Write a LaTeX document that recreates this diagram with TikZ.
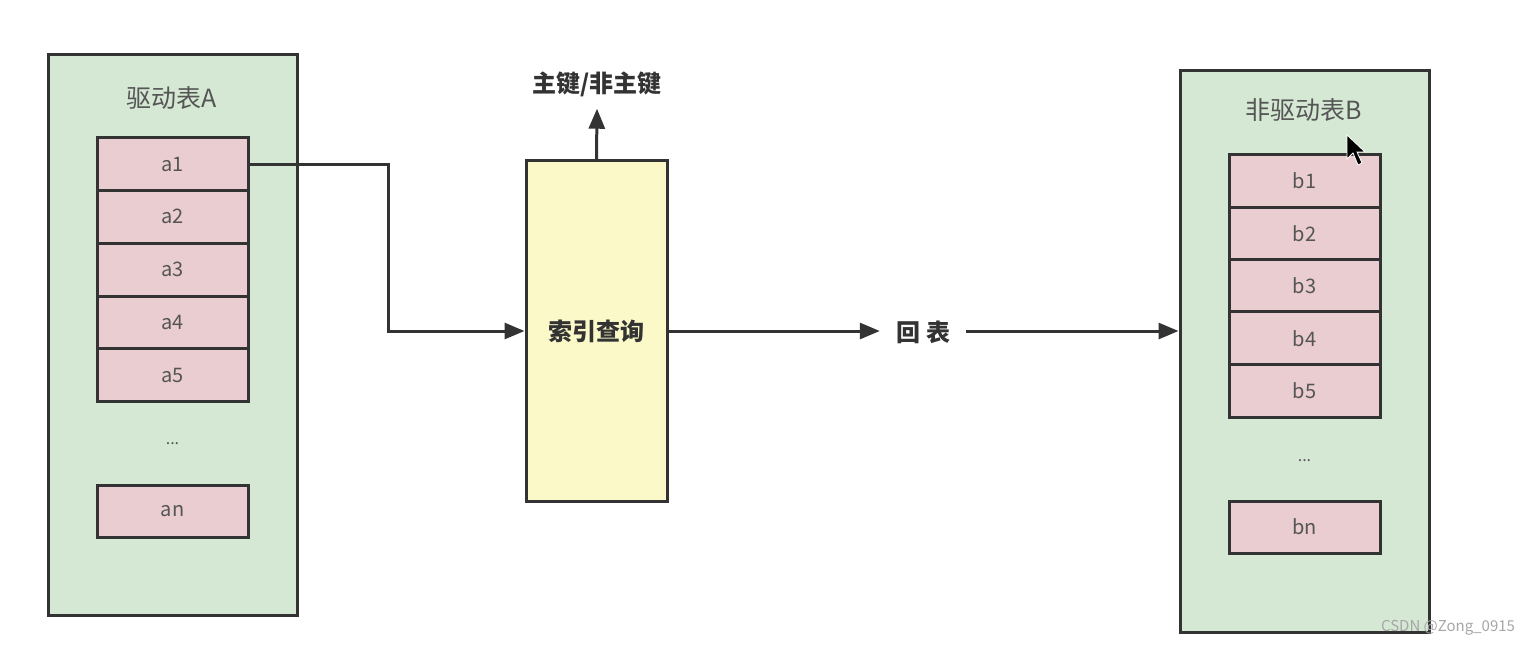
\documentclass[tikz,border=0pt]{standalone}
\usepackage{fontspec}
\setmainfont{Noto Sans CJK SC}
\usetikzlibrary{arrows.meta}

\definecolor{tablegreen}{HTML}{D5E8D4}
\definecolor{rowpink}{HTML}{EACDD0}
\definecolor{indexyellow}{HTML}{FBF9C8}
\definecolor{edgegray}{HTML}{333333}
\definecolor{textgray}{HTML}{555555}

\tikzset{
    table/.style={draw=edgegray, line width=3pt, fill=tablegreen, inner sep=0pt, minimum width=249pt, minimum height=561pt},
    row/.style={draw=edgegray, line width=3pt, fill=rowpink, inner sep=0pt, minimum width=151pt, minimum height=52.8pt, text=textgray, font=\fontsize{20}{20}\selectfont},
    title/.style={text=textgray, font=\fontsize{25}{25}\selectfont},
    dots/.style={text=textgray, font=\fontsize{16}{16}\selectfont},
    bold label/.style={text=edgegray, font=\fontsize{24}{24}\selectfont\bfseries},
    flow/.style={draw=edgegray, line width=3pt, -{Triangle[length=20pt, width=16pt]}}
}

\begin{document}
\begin{tikzpicture}[x=1pt, y=-1pt]

    \useasboundingbox (0,0) rectangle (1528,646);

    % driving table A
    \node[table] (tableA) at (173,334.5) {};
    \node[title] (titleA) at (172,98) {驱动表A};
    \foreach \i in {1,...,5} {
        \node[row] (a\i) at (172.5,{164+(\i-1)*52.8}) {a\i};
    }
    \node[dots] (dotsA) at (172.5,444) {...};
    \node[row, minimum height=52pt] (an) at (172.5,511) {an};

    % index lookup
    \node[draw=edgegray, line width=3pt, fill=indexyellow, minimum width=141pt, minimum height=341pt, inner sep=0pt, bold label] (index) at (596.5,331) {索引查询};
    \node[bold label, inner ysep=12pt] (key) at (597,84) {主键/非主键};
    \node[bold label, inner xsep=16pt] (back) at (923,332) {回\hspace{6pt}表};

    % non-driving table B
    \node[table, minimum height=562pt] (tableB) at (1304.5,351) {};
    \node[title] (titleB) at (1304,110) {非驱动表B};
    \foreach \i in {1,...,5} {
        \node[row] (b\i) at (1304.5,{181+(\i-1)*52.4}) {b\i};
    }
    \node[dots] (dotsB) at (1304.5,461) {...};
    \node[row, minimum height=52pt] (bn) at (1304.5,527) {bn};

    \draw[flow] (a1.east) -- ++(139,0) |- (index.west);
    \draw[flow] (index.north) -- (key.south);
    \draw[flow] (index.east) -- (index.east -| back.west);
    \draw[flow] (index.east -| back.east) -- (index.east -| tableB.west);

    % mouse pointer
    \draw[white, line width=0.8pt, fill=black] (1347,135) -- (1347,159) -- (1353,153) -- (1358,165) -- (1362,163) -- (1357,152) -- (1365,152) -- cycle;

    \node[text=gray!70, font=\fontsize{15}{15}\selectfont] (mark) at (1448,628) {CSDN @Zong\_0915};

\end{tikzpicture}
\end{document}
